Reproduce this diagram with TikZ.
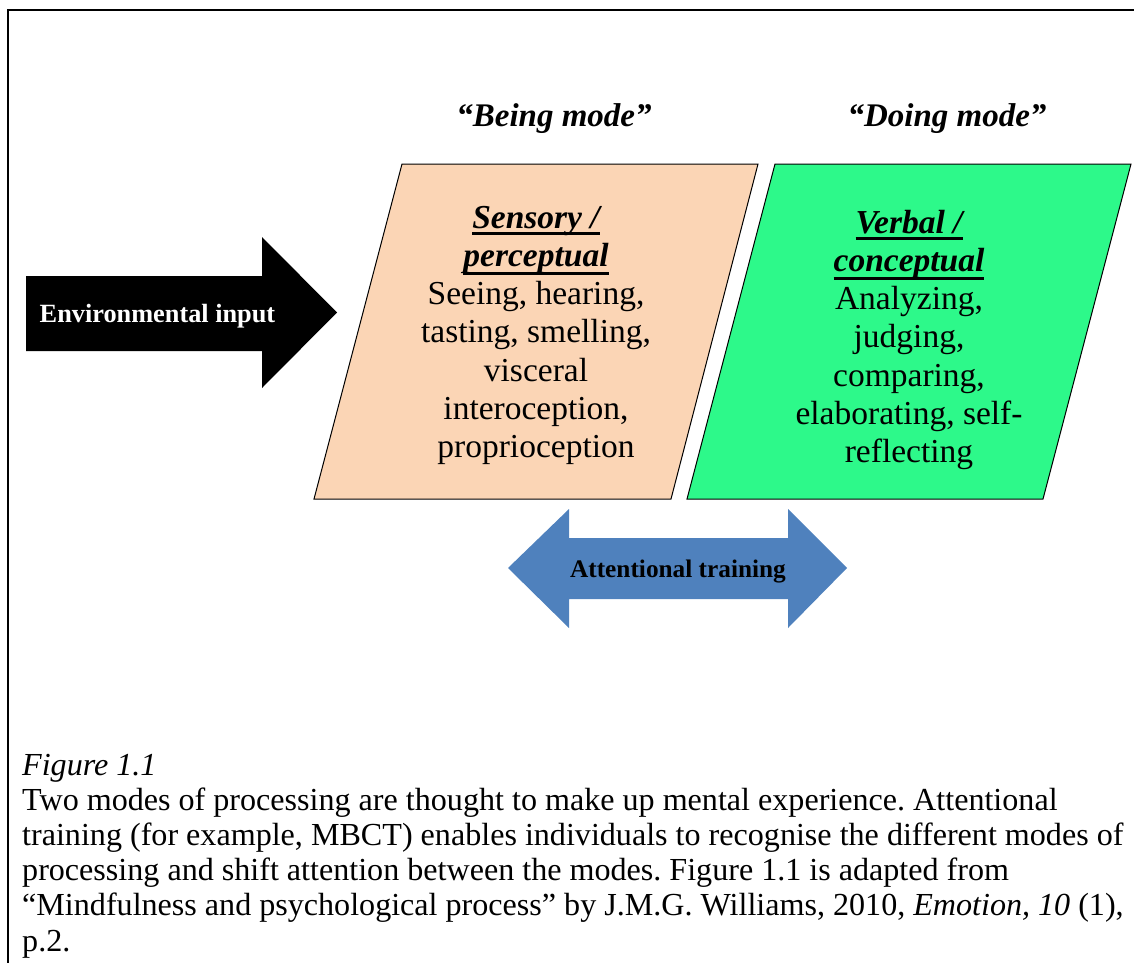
\documentclass[tikz,border=0pt]{standalone}
\usepackage{fontspec}
\setmainfont{Liberation Serif}
\definecolor{peach}{HTML}{FBD5B5}
\definecolor{mintgreen}{HTML}{2DF98A}
\definecolor{officeblue}{HTML}{4F81BD}
\newcommand\ulin[2]{\setbox0\hbox{#2}\rlap{\rule[-#1]{\wd0}{3pt}}\box0}
\tikzset{
  txt/.style={inner sep=0pt, anchor=base},
  boxtxt/.style={txt, font=\fontsize{33.5}{38.3}\selectfont},
  headtxt/.style={txt, font=\fontsize{33.5}{38.3}\selectfont\bfseries\itshape},
  captxt/.style={inner sep=0pt, anchor=base west, font=\fontsize{32.1}{35.2}\selectfont\frenchspacing},
  modebox/.style={draw=black, line width=1pt},
}
\begin{document}
\begin{tikzpicture}[x=1pt,y=-1pt]
\useasboundingbox (0,0) rectangle (1134,963);
% frame
\draw[line width=2pt] (1134,10) -- (8,10) -- (8,963);
% titles
\node[txt, font=\fontsize{33}{38}\selectfont\bfseries\itshape] (being) at (554,127) {“Being mode”};
\node[txt, font=\fontsize{33}{38}\selectfont\bfseries\itshape] (doing) at (947,127) {“Doing mode”};
% parallelograms
\fill[peach] (402,164) -- (758,164) -- (671,499) -- (314,499) -- cycle;
\draw[modebox] (402,164) -- (758,164) -- (671,499) -- (314,499) -- cycle;
\fill[mintgreen] (775,164) -- (1131,164) -- (1043,499) -- (687,499) -- cycle;
\draw[modebox] (775,164) -- (1131,164) -- (1043,499) -- (687,499) -- cycle;
% environmental input arrow
\fill[black] (26,276) -- (262,276) -- (262,237) -- (337,312.5) -- (262,388) -- (262,351) -- (26,351) -- cycle;
\node[txt, text=white, font=\fontsize{26.3}{30}\selectfont\bfseries] (env) at (157.5,322) {Environmental input};
% attentional training double arrow
\fill[officeblue] (508,568) -- (569,509) -- (569,538) -- (788,538) -- (788,509) -- (847,568) -- (788,628) -- (788,599) -- (569,599) -- (569,628) -- cycle;
\node[txt, font=\fontsize{25.3}{30}\selectfont\bfseries] (att) at (678,577) {Attentional training};
% sensory box text
\node[headtxt] (s1) at (536,228) {\ulin{7pt}{Sensory /}};
\node[headtxt] (s2) at (536,266) {\ulin{9pt}{perceptual}};
\foreach \t [count=\i] in {{Seeing, hearing,},{tasting, smelling,},{visceral},{interoception,},{proprioception}}
  \node[boxtxt] (sl\i) at (536,{304.6+38.3*(\i-1)}) {\t};
% verbal box text
\node[headtxt] (v1) at (909,233) {\ulin{7pt}{Verbal /}};
\node[headtxt] (v2) at (909,271.3) {\ulin{9pt}{conceptual}};
\foreach \t [count=\i] in {{Analyzing,},{judging,},{comparing,},{elaborating, self-},{reflecting}}
  \node[boxtxt] (vl\i) at (909,{309.6+38.3*(\i-1)}) {\t};
% caption
\node[captxt] (c0) at (22,775) {\itshape Figure 1.1};
\node[captxt] (c1) at (22,810.2) {Two modes of processing are thought to make up mental experience. Attentional};
\node[captxt] (c2) at (22,845.4) {training (for example, MBCT) enables individuals to recognise the different modes of};
\node[captxt] (c3) at (22,880.6) {processing and shift attention between the modes. Figure 1.1 is adapted from};
\node[captxt] (c4) at (22,915.8) {“Mindfulness and psychological process” by J.M.G. Williams, 2010, \textit{Emotion, 10} (1),};
\node[captxt] (c5) at (22,951) {p.2.};
\end{tikzpicture}
\end{document}
